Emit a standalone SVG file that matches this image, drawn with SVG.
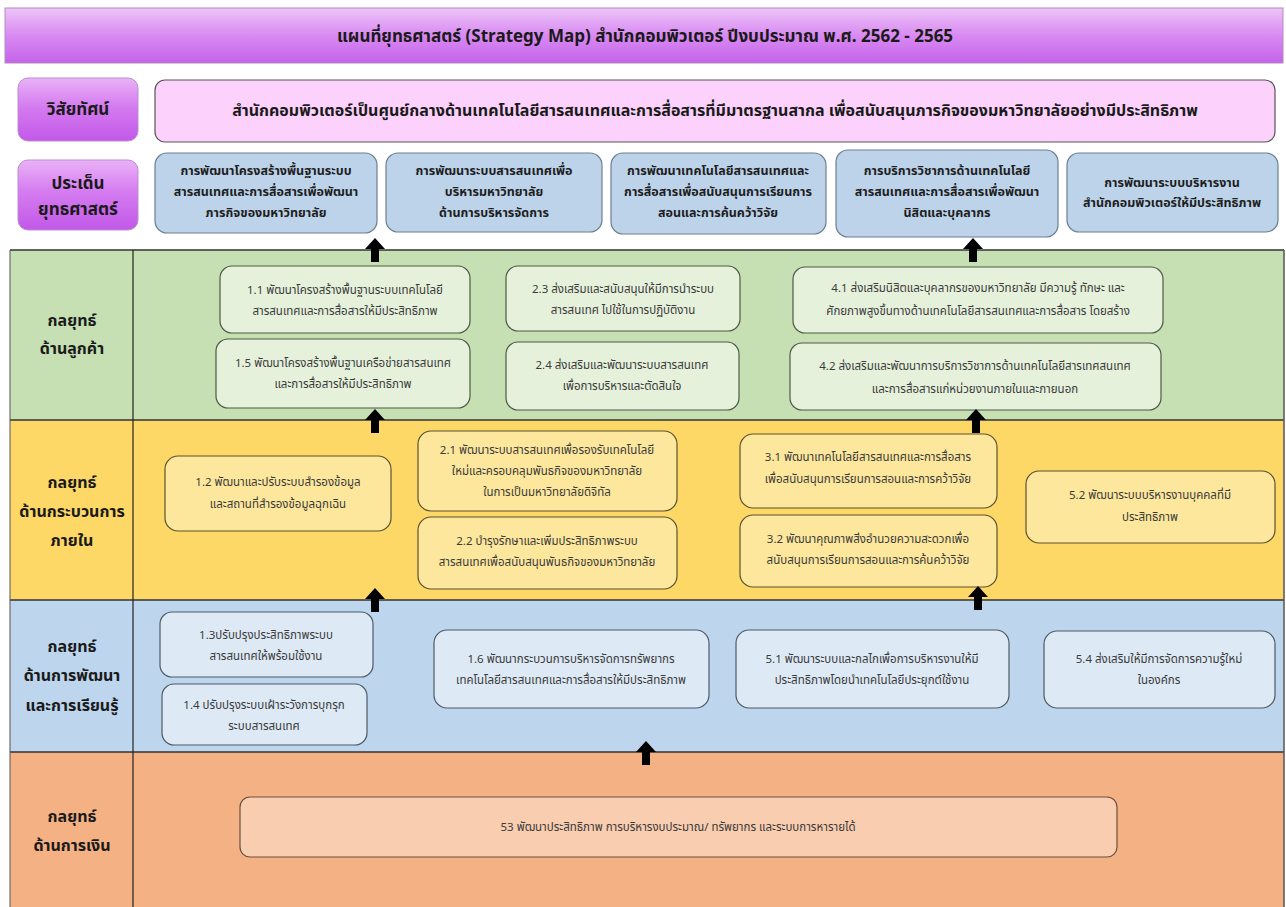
<svg xmlns="http://www.w3.org/2000/svg" width="1286" height="907" viewBox="0 0 1286 907">
<defs>
<linearGradient id="gTitle" x1="0" y1="0" x2="0" y2="1">
<stop offset="0" stop-color="#ecc4f7"/><stop offset="0.5" stop-color="#d98af2"/><stop offset="1" stop-color="#c463ea"/>
</linearGradient>
<linearGradient id="gLab" x1="0" y1="0" x2="0" y2="1">
<stop offset="0" stop-color="#eab2f7"/><stop offset="0.45" stop-color="#d57cf0"/><stop offset="1" stop-color="#c258e8"/>
</linearGradient>
<marker id="ah" viewBox="0 0 10 10" refX="5" refY="5" markerWidth="1" markerHeight="1"><path d="M0 0"/></marker>
</defs>
<style>
text{font-family:"Noto Sans Thai","Tahoma","Noto Sans","DejaVu Sans",sans-serif;text-anchor:middle;dominant-baseline:middle}
.title{font-size:17px;fill:#1a1a1a;font-weight:bold}
.vis{font-size:16px;fill:#1a1a1a;font-weight:bold}
.lab{font-size:17px;fill:#1a1a1a;font-weight:bold}
.clab{font-size:16px;fill:#1a1a1a;font-weight:bold}
.iss{fill:#bcd3ea;stroke:#6d7f92;stroke-width:1.2}
.isst{font-size:12.5px;fill:#1e1e1e;font-weight:bold}
.gb{fill:#e6f1dc;stroke:#4d5a45;stroke-width:1.2}
.yb{fill:#fde79c;stroke:#5b5230;stroke-width:1.2}
.bb{fill:#dde9f5;stroke:#4e5a66;stroke-width:1.2}
.ob{fill:#f9cdaf;stroke:#6a5040;stroke-width:1.2}
.bt{font-size:11.5px;fill:#3a3a3a}
.row{stroke:#333;stroke-width:1.5}
.arr{fill:#000}
</style>

<g id="title">
<rect x="5" y="8" width="1278" height="55" fill="url(#gTitle)" stroke="#b58bc4" stroke-width="1"/>
<text class="title" x="645" y="37">แผนที่ยุทธศาสตร์ (Strategy Map) สำนักคอมพิวเตอร์ ปีงบประมาณ พ.ศ. 2562 - 2565</text>
</g>

<g id="vision-label">
<rect x="18" y="78" width="120" height="63" rx="10" fill="url(#gLab)" stroke="#b98fd0" stroke-width="1"/>
<text class="lab" x="78" y="110">วิสัยทัศน์</text>
</g>
<g id="vision">
<rect x="155" y="80" width="1120" height="62" rx="10" fill="#fcd2fc" stroke="#555" stroke-width="1.2"/>
<text class="vis" x="715" y="112">สำนักคอมพิวเตอร์เป็นศูนย์กลางด้านเทคโนโลยีสารสนเทศและการสื่อสารที่มีมาตรฐานสากล เพื่อสนับสนุนภารกิจของมหาวิทยาลัยอย่างมีประสิทธิภาพ</text>
</g>

<g id="issue-label">
<rect x="18" y="160" width="120" height="70" rx="10" fill="url(#gLab)" stroke="#b98fd0" stroke-width="1"/>
<text class="lab" x="78" y="184">ประเด็น</text>
<text class="lab" x="78" y="210">ยุทธศาสตร์</text>
</g>
<g id="issue1">
<rect class="iss" x="155" y="153" width="222" height="80" rx="12"/>
<text class="isst" x="266" y="172">การพัฒนาโครงสร้างพื้นฐานระบบ</text>
<text class="isst" x="266" y="193">สารสนเทศและการสื่อสารเพื่อพัฒนา</text>
<text class="isst" x="266" y="214">ภารกิจของมหาวิทยาลัย</text>
</g>
<g id="issue2">
<rect class="iss" x="386" y="153" width="216" height="79" rx="12"/>
<text class="isst" x="494" y="172">การพัฒนาระบบสารสนเทศเพื่อ</text>
<text class="isst" x="494" y="193">บริหารมหาวิทยาลัย</text>
<text class="isst" x="494" y="214">ด้านการบริหารจัดการ</text>
</g>
<g id="issue3">
<rect class="iss" x="611" y="153" width="215" height="81" rx="12"/>
<text class="isst" x="718" y="172">การพัฒนาเทคโนโลยีสารสนเทศและ</text>
<text class="isst" x="718" y="193">การสื่อสารเพื่อสนับสนุนการเรียนการ</text>
<text class="isst" x="718" y="214">สอนและการค้นคว้าวิจัย</text>
</g>
<g id="issue4">
<rect class="iss" x="836" y="150" width="222" height="87" rx="12"/>
<text class="isst" x="947" y="172">การบริการวิชาการด้านเทคโนโลยี</text>
<text class="isst" x="947" y="193">สารสนเทศและการสื่อสารเพื่อพัฒนา</text>
<text class="isst" x="947" y="214">นิสิตและบุคลากร</text>
</g>
<g id="issue5">
<rect class="iss" x="1067" y="153" width="211" height="79" rx="12"/>
<text class="isst" x="1172" y="184">การพัฒนาระบบบริหารงาน</text>
<text class="isst" x="1172" y="204">สำนักคอมพิวเตอร์ให้มีประสิทธิภาพ</text>
</g>

<g id="rows">
<rect x="10" y="250" width="1274" height="170" fill="#c6e0b3"/>
<rect x="10" y="420" width="1274" height="180" fill="#fed866"/>
<rect x="10" y="600" width="1274" height="152" fill="#bdd6ed"/>
<rect x="10" y="752" width="1274" height="155" fill="#f4b183"/>
<line class="row" x1="10" y1="250" x2="1284" y2="250"/>
<line class="row" x1="10" y1="420" x2="1284" y2="420"/>
<line class="row" x1="10" y1="600" x2="1284" y2="600"/>
<line class="row" x1="10" y1="752" x2="1284" y2="752"/>
<line x1="133" y1="250" x2="133" y2="907" stroke="#222" stroke-width="1.2"/>
<line x1="10" y1="250" x2="10" y2="907" stroke="#555" stroke-width="1"/>
<line x1="1284" y1="250" x2="1284" y2="907" stroke="#555" stroke-width="1.5"/>
</g>

<g id="label-customer">
<text class="clab" x="72" y="322">กลยุทธ์</text>
<text class="clab" x="72" y="350">ด้านลูกค้า</text>
</g>
<g id="label-internal">
<text class="clab" x="72" y="484">กลยุทธ์</text>
<text class="clab" x="72" y="513">ด้านกระบวนการ</text>
<text class="clab" x="72" y="542">ภายใน</text>
</g>
<g id="label-learning">
<text class="clab" x="72" y="648">กลยุทธ์</text>
<text class="clab" x="72" y="677">ด้านการพัฒนา</text>
<text class="clab" x="72" y="707">และการเรียนรู้</text>
</g>
<g id="label-finance">
<text class="clab" x="72" y="818">กลยุทธ์</text>
<text class="clab" x="72" y="847">ด้านการเงิน</text>
</g>

<g id="s1-1"><rect class="gb" x="220" y="266" width="250" height="67" rx="12"/>
<text class="bt" x="345" y="291">1.1 พัฒนาโครงสร้างพื้นฐานระบบเทคโนโลยี</text>
<text class="bt" x="345" y="312">สารสนเทศและการสื่อสารให้มีประสิทธิภาพ</text></g>
<g id="s1-5"><rect class="gb" x="216" y="339" width="254" height="69" rx="12"/>
<text class="bt" x="343" y="364">1.5 พัฒนาโครงสร้างพื้นฐานเครือข่ายสารสนเทศ</text>
<text class="bt" x="343" y="385">และการสื่อสารให้มีประสิทธิภาพ</text></g>
<g id="s2-3"><rect class="gb" x="506" y="266" width="234" height="65" rx="12"/>
<text class="bt" x="623" y="290">2.3 ส่งเสริมและสนับสนุนให้มีการนำระบบ</text>
<text class="bt" x="623" y="311">สารสนเทศ ไปใช้ในการปฏิบัติงาน</text></g>
<g id="s2-4"><rect class="gb" x="506" y="342" width="233" height="68" rx="12"/>
<text class="bt" x="622" y="366">2.4 ส่งเสริมและพัฒนาระบบสารสนเทศ</text>
<text class="bt" x="622" y="387">เพื่อการบริหารและตัดสินใจ</text></g>
<g id="s4-1"><rect class="gb" x="793" y="267" width="370" height="66" rx="12"/>
<text class="bt" x="978" y="289">4.1 ส่งเสริมนิสิตและบุคลากรของมหาวิทยาลัย มีความรู้ ทักษะ และ</text>
<text class="bt" x="978" y="312">ศักยภาพสูงขึ้นทางด้านเทคโนโลยีสารสนเทศและการสื่อสาร โดยสร้าง</text></g>
<g id="s4-2"><rect class="gb" x="790" y="343" width="371" height="67" rx="12"/>
<text class="bt" x="975" y="367">4.2 ส่งเสริมและพัฒนาการบริการวิชาการด้านเทคโนโลยีสารเทศสนเทศ</text>
<text class="bt" x="975" y="390">และการสื่อสารแก่หน่วยงานภายในและภายนอก</text></g>

<g id="s1-2"><rect class="yb" x="165" y="456" width="226" height="75" rx="13"/>
<text class="bt" x="278" y="483">1.2 พัฒนาและปรับระบบสำรองข้อมูล</text>
<text class="bt" x="278" y="505">และสถานที่สำรองข้อมูลฉุกเฉิน</text></g>
<g id="s2-1"><rect class="yb" x="418" y="431" width="259" height="80" rx="13"/>
<text class="bt" x="547" y="451">2.1 พัฒนาระบบสารสนเทศเพื่อรองรับเทคโนโลยี</text>
<text class="bt" x="547" y="472">ใหม่และครอบคลุมพันธกิจของมหาวิทยาลัย</text>
<text class="bt" x="547" y="493">ในการเป็นมหาวิทยาลัยดิจิทัล</text></g>
<g id="s2-2"><rect class="yb" x="418" y="517" width="259" height="72" rx="13"/>
<text class="bt" x="547" y="542">2.2 บำรุงรักษาและเพิ่มประสิทธิภาพระบบ</text>
<text class="bt" x="547" y="563">สารสนเทศเพื่อสนับสนุนพันธกิจของมหาวิทยาลัย</text></g>
<g id="s3-1"><rect class="yb" x="740" y="434" width="257" height="74" rx="13"/>
<text class="bt" x="868" y="458">3.1 พัฒนาเทคโนโลยีสารสนเทศและการสื่อสาร</text>
<text class="bt" x="868" y="480">เพื่อสนับสนุนการเรียนการสอนและการคว้าวิจัย</text></g>
<g id="s3-2"><rect class="yb" x="740" y="515" width="257" height="72" rx="13"/>
<text class="bt" x="868" y="540">3.2 พัฒนาคุณภาพสิ่งอำนวยความสะดวกเพื่อ</text>
<text class="bt" x="868" y="561">สนับสนุนการเรียนการสอนและการค้นคว้าวิจัย</text></g>
<g id="s5-2"><rect class="yb" x="1026" y="471" width="249" height="72" rx="13"/>
<text class="bt" x="1150" y="496">5.2 พัฒนาระบบบริหารงานบุคคลที่มี</text>
<text class="bt" x="1150" y="518">ประสิทธิภาพ</text></g>

<g id="s1-3"><rect class="bb" x="160" y="612" width="213" height="65" rx="12"/>
<text class="bt" x="266" y="636">1.3ปรับปรุงประสิทธิภาพระบบ</text>
<text class="bt" x="266" y="657">สารสนเทศให้พร้อมใช้งาน</text></g>
<g id="s1-4"><rect class="bb" x="162" y="684" width="205" height="61" rx="12"/>
<text class="bt" x="264" y="706">1.4 ปรับปรุงระบบเฝ้าระวังการบุกรุก</text>
<text class="bt" x="264" y="727">ระบบสารสนเทศ</text></g>
<g id="s1-6"><rect class="bb" x="434" y="630" width="275" height="78" rx="13"/>
<text class="bt" x="571" y="660">1.6 พัฒนากระบวนการบริหารจัดการทรัพยากร</text>
<text class="bt" x="571" y="681">เทคโนโลยีสารสนเทศและการสื่อสารให้มีประสิทธิภาพ</text></g>
<g id="s5-1"><rect class="bb" x="736" y="630" width="273" height="78" rx="13"/>
<text class="bt" x="872" y="660">5.1 พัฒนาระบบและกลไกเพื่อการบริหารงานให้มี</text>
<text class="bt" x="872" y="681">ประสิทธิภาพโดยนำเทคโนโลยีประยุกต์ใช้งาน</text></g>
<g id="s5-4"><rect class="bb" x="1044" y="631" width="231" height="77" rx="13"/>
<text class="bt" x="1159" y="660">5.4 ส่งเสริมให้มีการจัดการความรู้ใหม่</text>
<text class="bt" x="1159" y="681">ในองค์กร</text></g>

<g id="s53"><rect class="ob" x="240" y="797" width="877" height="60" rx="10"/>
<text class="bt" x="678" y="828">53 พัฒนาประสิทธิภาพ การบริหารงบประมาณ/ ทรัพยากร และระบบการหารายได้</text></g>

<g id="connectors">
<path class="arr" d="M375 238 L385 249 L379 249 L379 262 L371 262 L371 249 L365 249 Z"/>
<path class="arr" d="M973 238 L983 249 L977 249 L977 262 L969 262 L969 249 L963 249 Z"/>
<path class="arr" d="M375 409 L385 420 L379 420 L379 433 L371 433 L371 420 L365 420 Z"/>
<path class="arr" d="M976 409 L986 420 L980 420 L980 433 L972 433 L972 420 L966 420 Z"/>
<path class="arr" d="M375 588 L385 599 L379 599 L379 612 L371 612 L371 599 L365 599 Z"/>
<path class="arr" d="M978 586 L988 597 L982 597 L982 610 L974 610 L974 597 L968 597 Z"/>
<path class="arr" d="M646 741 L656 752 L650 752 L650 765 L642 765 L642 752 L636 752 Z"/>
</g>
</svg>
